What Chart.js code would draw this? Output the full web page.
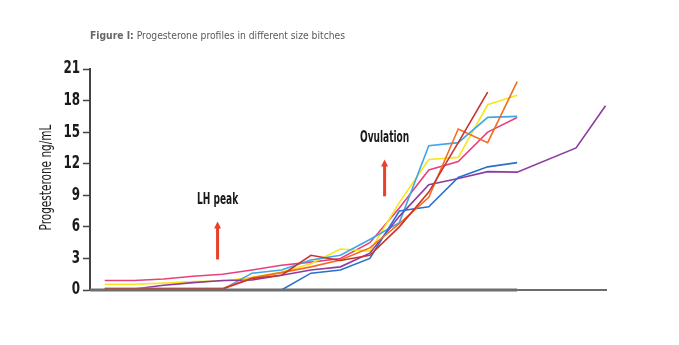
<!DOCTYPE html>
<html lang="en">
<head>
<meta charset="UTF-8">
<title>Progesterone profiles</title>
<script src="https://cdn.jsdelivr.net/npm/chart.js"></script>
<style>
  html, body { margin: 0; padding: 0; background: #fff; }
  #wrap { position: relative; width: 679px; height: 345px; }
  #caption {
    position: absolute; left: 90px; top: 29px;
    font: 10.25px "DejaVu Sans Condensed", sans-serif;
    color: #5a5a5a; white-space: nowrap;
  }
  #caption b { color: #666; }
</style>
</head>
<body>
<div id="wrap">
  <div id="caption"><b>Figure I:</b> Progesterone profiles in different size bitches</div>
  <canvas id="chart" width="679" height="345"></canvas>
</div>
<script>
// sampling points along the cycle (evenly spaced)
const sampleDays = [0, 1, 2, 3, 4, 5, 6, 7, 8, 9, 10, 11, 12, 13, 14, 15, 16, 17];
const yTicks = [0, 3, 6, 9, 12, 15, 18, 21];

// progesterone, ng/mL, one array per bitch
const pink      = [0.9, 0.9, 1.05, 1.3, 1.5, 1.9, 2.35, 2.65, 3.0, 4.5, 7.8, 11.4, 12.2, 15.0, 16.4];
const yellow    = [0.55, 0.55, 0.65, 0.8, 0.86, 1.2, 1.7, 2.5, 3.9, 3.7, 8.3, 12.4, 12.6, 17.6, 18.5];
const purple    = [0.1, 0.1, 0.45, 0.7, 0.9, 0.95, 1.4, 1.9, 2.2, 3.5, 7.0, 10.0, 10.6, 11.25, 11.2, null, 13.5, 17.5];
const lightBlue = [null, null, null, null, 0.05, 1.6, 1.9, 2.85, 3.3, 4.8, 6.4, 13.7, 14.0, 16.4, 16.5];
const blue      = [null, null, null, null, null, null, 0, 1.6, 1.9, 3.0, 7.5, 7.9, 10.7, 11.7, 12.1];
const orange    = [0.15, 0.15, 0.15, 0.15, 0.15, 1.15, 1.65, 2.2, 2.85, 4.0, 6.3, 8.8, 15.3, 14.0, 19.8];
const darkRed   = [0.1, 0.1, 0.1, 0.1, 0.1, 1.1, 1.4, 3.3, 2.8, 3.3, 6.0, 9.3, 14.0, 18.8];

const seriesList = [
  { data: darkRed,   color: '#c8342a' },
  { data: orange,    color: '#f26d21' },
  { data: blue,      color: '#2b6fce' },
  { data: purple,    color: '#8e3b9f' },
  { data: lightBlue, color: '#3fa6e8' },
  { data: yellow,    color: '#f7e61c' },
  { data: pink,      color: '#e8407e' }
];

const condensed = '"DejaVu Sans Condensed", sans-serif';

// arrows + labels placed in data units
const markers = [
  { text: 'LH peak',   x: 3.83, from: 2.9, to: 6.5,  labelY: 8.5 },
  { text: 'Ovulation', x: 9.5,  from: 8.9, to: 12.4, labelY: 14.4 }
];

// draw text squeezed horizontally (narrow display face)
function squeezedText(ctx, text, x, y, sx, align, rotate) {
  ctx.save();
  ctx.translate(x, y);
  if (rotate) ctx.rotate(rotate);
  ctx.scale(sx, 1);
  ctx.textAlign = align;
  ctx.textBaseline = 'middle';
  ctx.fillText(text, 0, 0);
  ctx.restore();
}

const markerPlugin = {
  id: 'markers',
  afterDatasetsDraw(chart) {
    const { ctx, scales: { x, y } } = chart;
    ctx.save();
    markers.forEach(m => {
      const px = x.getPixelForValue(m.x);
      const y0 = y.getPixelForValue(m.from);
      const y1 = y.getPixelForValue(m.to);
      ctx.strokeStyle = '#e8402a';
      ctx.fillStyle = '#e8402a';
      ctx.lineWidth = 3;
      ctx.beginPath();
      ctx.moveTo(px, y0);
      ctx.lineTo(px, y1 + 6);
      ctx.stroke();
      ctx.beginPath();
      ctx.moveTo(px - 3.5, y1 + 7);
      ctx.lineTo(px + 3.5, y1 + 7);
      ctx.lineTo(px, y1);
      ctx.closePath();
      ctx.fill();
      ctx.fillStyle = '#1a1a1a';
      ctx.font = 'bold 15px ' + condensed;
      squeezedText(ctx, m.text, px, y.getPixelForValue(m.labelY), 0.67, 'center');
    });
    ctx.restore();
  }
};

// y tick labels and axis title in a narrow setting
const yLabelPlugin = {
  id: 'yLabels',
  afterDraw(chart) {
    const { ctx, chartArea, scales: { y } } = chart;
    ctx.save();
    ctx.fillStyle = '#1a1a1a';
    ctx.font = 'bold 17px ' + condensed;
    yTicks.forEach(v => {
      squeezedText(ctx, String(v), y.right - 10, y.getPixelForValue(v), 0.78, 'right');
    });
    ctx.font = '15px ' + condensed;
    squeezedText(ctx, 'Progesterone ng/mL', 47, (chartArea.top + chartArea.bottom) / 2 - 2, 0.78, 'center', -Math.PI / 2);
    ctx.restore();
  }
};

// baseline: heavy grey under the sampled part, thin dark beyond it
const baselinePlugin = {
  id: 'baseline',
  afterDatasetsDraw(chart) {
    const { ctx, chartArea, scales: { x, y } } = chart;
    const y0 = y.getPixelForValue(0);
    const split = x.getPixelForValue(14);
    ctx.save();
    ctx.strokeStyle = '#6e6e6e';
    ctx.lineWidth = 3;
    ctx.beginPath();
    ctx.moveTo(chartArea.left, y0);
    ctx.lineTo(split, y0);
    ctx.stroke();
    ctx.strokeStyle = '#3a3a3a';
    ctx.lineWidth = 1.5;
    ctx.beginPath();
    ctx.moveTo(split, y0);
    ctx.lineTo(chartArea.right, y0);
    ctx.stroke();
    ctx.restore();
  }
};

new Chart(document.getElementById('chart'), {
  type: 'line',
  data: {
    datasets: seriesList.map(s => ({
      data: s.data.map((v, i) => ({ x: sampleDays[i], y: v })),
      borderColor: s.color,
      borderWidth: 1.6,
      pointRadius: 0,
      tension: 0,
      spanGaps: true,
      fill: false
    }))
  },
  options: {
    responsive: false,
    animation: false,
    layout: { padding: { left: 0, top: 69, right: 72, bottom: 55 } },
    plugins: { legend: { display: false }, tooltip: { enabled: false } },
    scales: {
      x: {
        type: 'linear',
        min: -0.5,
        max: 17.05,
        grid: { display: false },
        border: { display: false },
        ticks: { display: false },
        afterFit(scale) { scale.height = 0; }
      },
      y: {
        min: 0,
        max: 21,
        afterBuildTicks(scale) { scale.ticks = yTicks.map(v => ({ value: v })); },
        afterFit(scale) { scale.width = 90; },
        grid: { drawOnChartArea: false, tickLength: 7, tickColor: '#444', tickWidth: 1.5 },
        border: { display: true, color: '#444', width: 2 },
        ticks: { display: false }
      }
    }
  },
  plugins: [baselinePlugin, markerPlugin, yLabelPlugin]
});
</script>
</body>
</html>
